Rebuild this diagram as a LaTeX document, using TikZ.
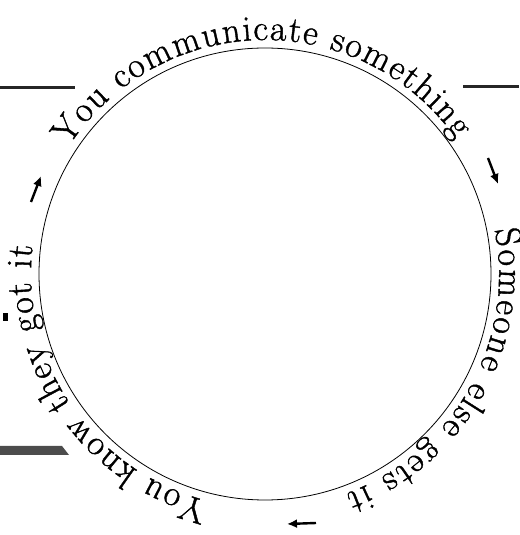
\documentclass[tikz,border=0pt]{standalone}
\usepackage{fontspec}
\newfontfamily\arcfont[FakeBold=1.1]{Latin Modern Roman}
\usetikzlibrary{decorations.text,arrows.meta,calc}
\newcommand\bigtxt{\arcfont\fontsize{36}{42}\selectfont}
\begin{document}
\begin{tikzpicture}[x=1pt,y=1pt,
  ring/.style={draw, circle, line width=0.8pt, minimum size=452pt, inner sep=0pt},
  flow/.style={line width=2.4pt, -{Latex[length=10pt,width=9pt]}},
  rulebar/.style={line width=3pt, black!85},
  arctext/.style={decorate, decoration={text along path, text align={fit to path}, raise=8pt, text={#1}}}]
\useasboundingbox (0,0) rectangle (519,535);
\coordinate (C) at (265,261);
\node[ring] (cyc) at (C) {};
% texts around the circle
\path[arctext=|\bigtxt|You communicate something] ($(C)+(147:226)$) arc[start angle=147, end angle=35, radius=226];
\path[arctext=|\bigtxt|Someone else gets it] ($(C)+(11:226)$) arc[start angle=11, end angle=-70, radius=226];
\path[arctext=|\bigtxt|You know they got it] ($(C)+(-104:226)$) arc[start angle=-104, end angle=-187, radius=226];
% arrows
\coordinate (r1) at (488,377); \coordinate (r2) at (498,351);
\coordinate (b1) at (316,12);  \coordinate (b2) at (287,11);
\coordinate (l1) at (31,333);  \coordinate (l2) at (41,359);
\draw[flow] (r1) -- (r2);
\draw[flow] (b1) -- (b2);
\draw[flow] (l1) -- (l2);
% page fragments
\coordinate (t1) at (0,447); \coordinate (t2) at (75,447);
\coordinate (t3) at (463,448); \coordinate (t4) at (519,448);
\draw[rulebar] (t1) -- (t2);
\draw[rulebar] (t3) -- (t4);
\fill[black!70] (0,89) -- (62,89) -- (69,80) -- (0,80) -- cycle;
\fill[black] (3,214) rectangle (8,222);
\end{tikzpicture}
\end{document}
